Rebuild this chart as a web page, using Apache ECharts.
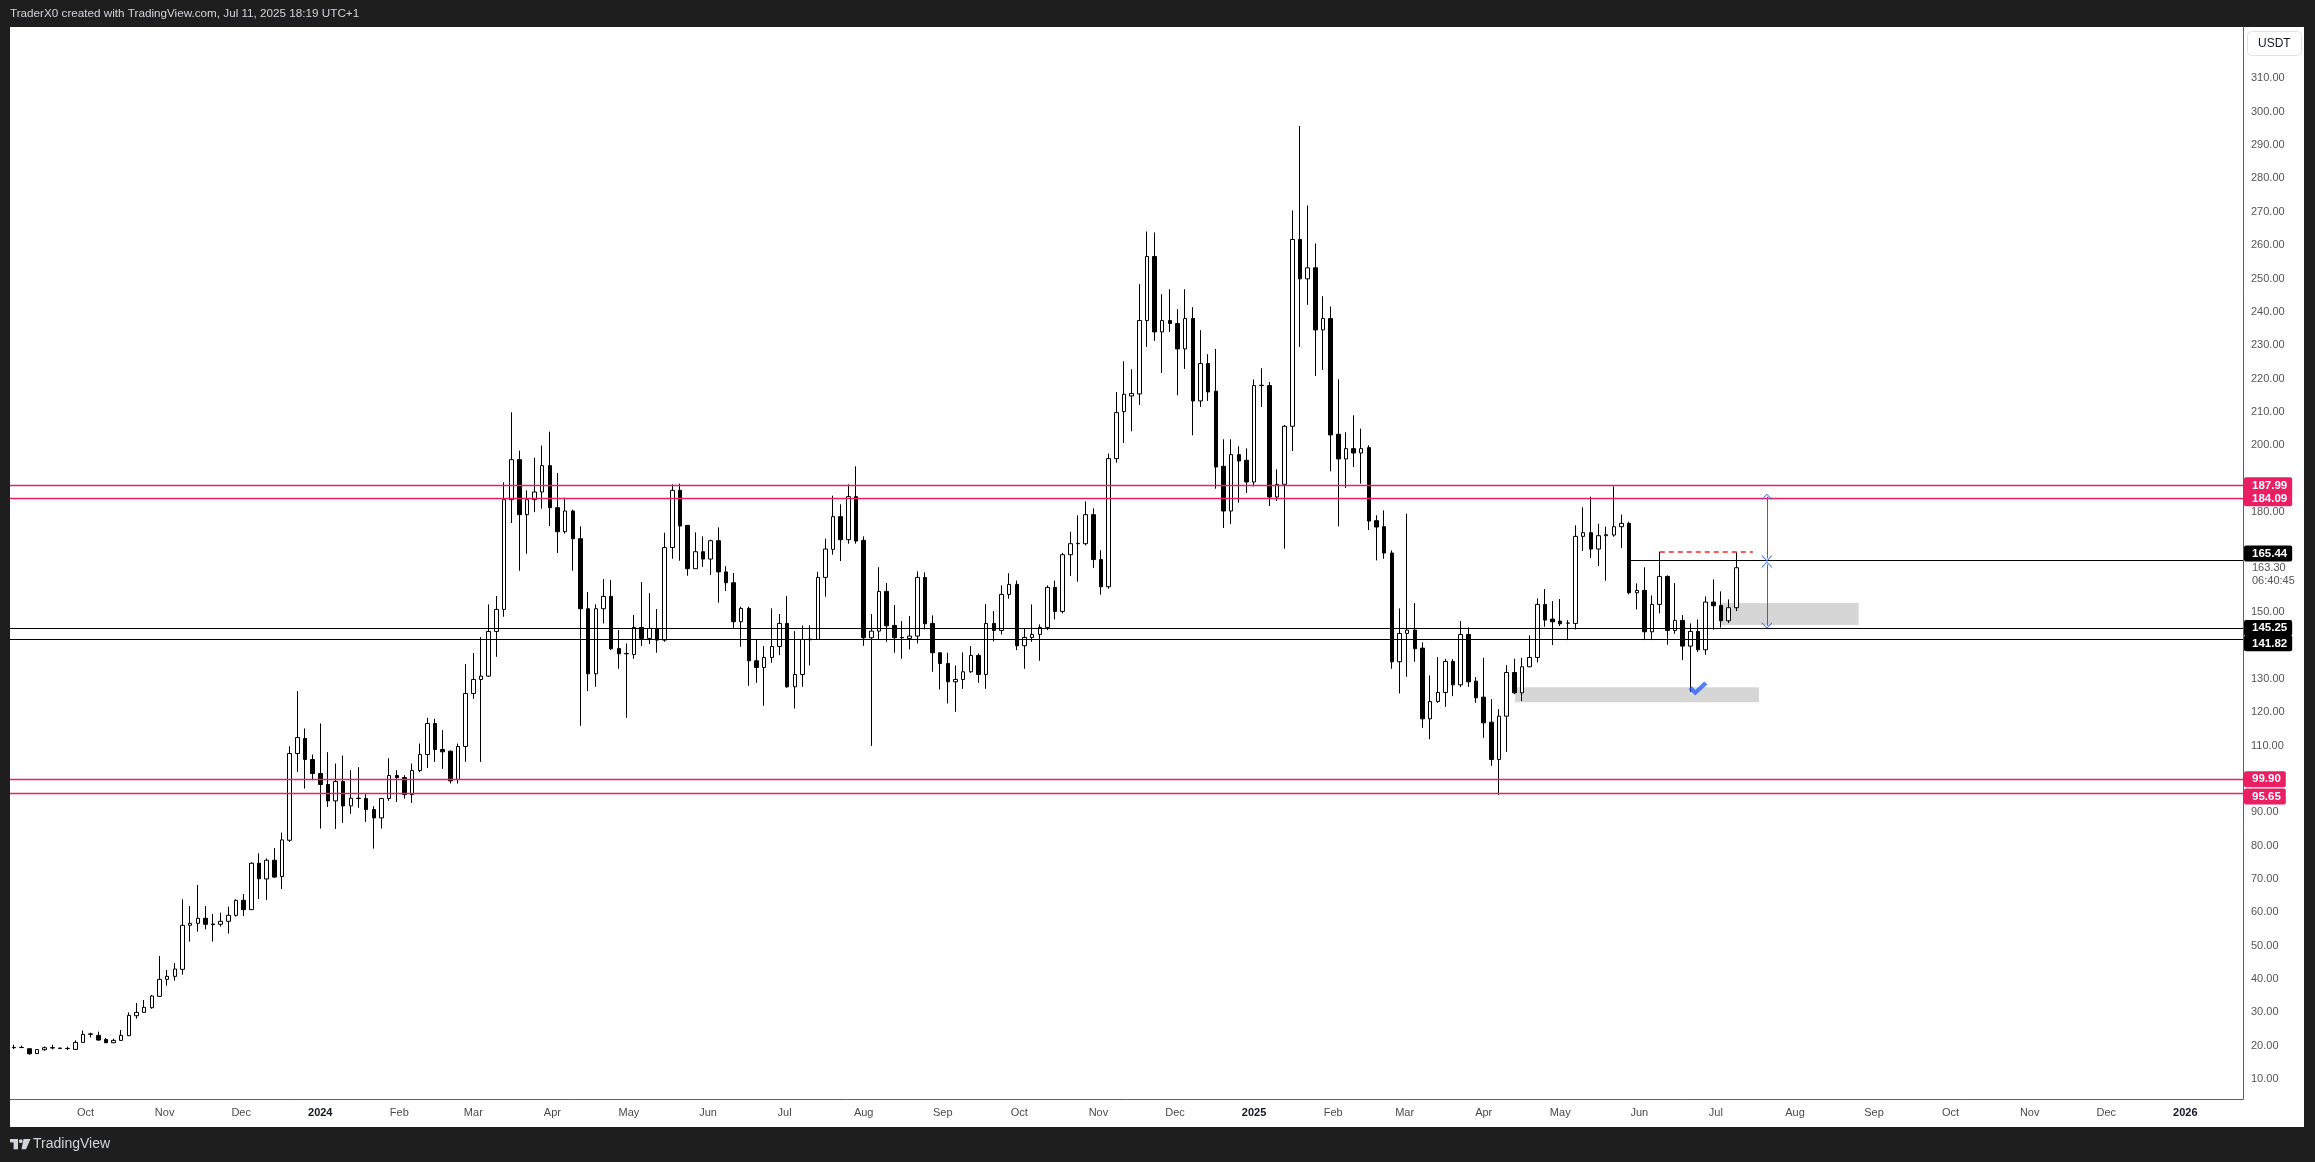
<!DOCTYPE html>
<html><head><meta charset="utf-8">
<script src="https://cdn.jsdelivr.net/npm/echarts@6/dist/echarts.min.js"></script>
<style>
html,body{margin:0;padding:0;background:#1e1e1e;overflow:hidden;}
#panel{position:absolute;left:10px;top:27px;width:2294px;height:1100px;background:#ffffff;}
#chart{position:absolute;left:0;top:0;width:2315px;height:1162px;}
</style></head><body>
<div id="panel"></div>
<div id="chart"></div>
<script>
// ---- data: SOL/USDT 3-day candles, first candle 2023-09-03, one every 3 days ----
const firstCandleDate = '2023-09-03';
const candleStepDays = 3;

const opens = [
19.5,19.45,19.1,17.65,18.8,19.4,19.3,19.2,18.9,21.0,
23.4,23.1,21.85,20.9,21.6,23.0,29.0,30.0,31.4,34.8,
39.9,40.8,42.9,56.1,56.7,58.2,56.5,56.4,57.3,59.1,
63.6,60.8,74.7,70.0,75.6,70.75,81.6,107.6,112.1,105.8,
101.6,98.3,93.4,99.2,91.9,94.2,94.1,90.8,88.3,94.1,
101.0,100.4,95.3,102.5,107.3,116.6,108.8,108.3,99.8,109.7,
125.6,129.8,130.8,144.2,150.8,183.7,195.7,179.2,183.7,186.0,
193.9,181.3,174.1,180.3,172.0,151.0,131.5,151.0,154.7,139.1,
137.6,137.3,145.4,142.1,145.1,141.6,169.35,186.5,176.0,163.0,
168.1,165.9,171.4,162.05,158.8,147.1,151.1,135.4,133.4,136.4,
139.7,146.6,127.6,131.3,141.7,141.8,160.4,168.8,178.6,171.7,
184.6,171.5,142.3,144.3,156.2,146.0,142.4,142.1,142.8,160.4,
146.6,137.8,134.6,129.1,129.8,132.1,137.0,131.3,146.6,144.5,
155.3,158.3,139.9,142.4,143.3,145.4,157.4,150.2,167.2,170.5,
170.5,179.2,165.75,157.6,196.0,210.1,214.8,215.4,237.4,256.6,
234.0,237.4,236.5,228.9,238.0,213.3,224.5,216.2,193.7,180.3,
197.2,195.5,189.0,217.9,217.9,184.5,188.3,205.7,261.7,249.9,
253.2,234.6,238.0,203.3,195.9,199.0,197.7,199.3,177.4,175.6,
167.7,135.1,143.6,144.6,139.2,118.0,123.2,125.9,135.2,128.2,
143.3,129.3,124.5,117.0,105.8,118.8,131.9,125.8,133.6,136.4,
152.3,147.9,147.3,146.7,146.6,172.7,173.8,168.9,172.9,173.1,
175.6,176.6,155.8,156.5,144.1,152.3,160.7,144.5,147.5,139.8,
144.2,138.7,153.0,152.0,147.4,151.3
];
const highs = [
20.3,20.0,19.2,18.9,19.8,20.3,19.4,19.7,21.6,24.6,
23.9,24.2,22.3,22.1,24.7,30.0,32.8,33.7,35.2,46.9,
42.7,44.8,63.9,61.9,68.2,61.9,59.5,59.9,61.7,63.9,
65.5,75.0,77.7,76.15,79.25,83.9,109.8,126.3,115.1,107.3,
116.6,108.0,104.6,107.0,102.6,103.5,95.4,91.8,94.3,106.2,
102.6,101.1,104.6,110.6,118.3,118.0,114.6,108.5,110.6,134.4,
137.7,142.5,152.3,154.8,188.9,209.9,198.4,186.5,196.3,199.9,
204.1,191.7,184.3,180.7,175.7,156.0,152.3,159.9,159.6,144.6,
140.6,149.1,159.0,155.7,150.9,173.8,188.3,188.5,176.0,173.9,
172.7,171.7,175.4,163.75,161.7,151.6,151.6,141.6,139.8,151.1,
149.4,154.8,144.3,146.0,146.0,162.1,172.0,184.9,182.3,188.3,
193.7,172.7,149.4,163.45,158.7,152.1,147.3,148.8,162.2,161.9,
149.0,137.8,137.8,134.0,137.9,139.8,137.6,152.4,150.3,158.0,
161.65,159.45,145.0,152.3,146.3,158.0,159.45,167.75,174.1,179.0,
183.2,181.1,168.55,197.5,216.0,225.2,222.8,248.3,264.1,263.8,
245.3,246.8,240.8,246.8,241.4,234.5,227.3,228.9,201.8,201.8,
199.7,199.1,219.7,223.1,219.0,192.8,206.1,270.4,295.7,271.9,
260.5,244.7,241.6,219.8,203.9,209.0,205.0,200.0,179.0,180.5,
168.5,151.1,179.5,152.7,140.9,131.0,136.5,136.0,135.9,147.3,
145.4,130.5,136.3,123.9,120.9,134.1,136.0,136.3,143.0,154.1,
156.9,153.3,153.9,147.6,176.0,181.4,184.6,176.5,175.6,187.7,
179.2,177.1,158.6,163.4,155.0,168.1,161.0,158.7,149.1,146.6,
147.8,154.7,159.8,156.2,153.8,167.9
];
const lows = [
19.0,19.3,17.3,17.6,18.5,18.9,19.0,18.7,18.8,20.9,
22.5,21.5,20.8,20.8,21.6,22.9,28.1,30.0,31.1,34.8,
38.0,39.5,41.3,51.2,54.2,54.9,51.2,55.7,53.6,58.7,
58.9,60.8,64.0,63.7,70.35,67.0,81.1,102.1,97.1,99.6,
85.1,91.6,85.0,86.8,89.5,91.3,87.1,79.1,85.1,93.4,
93.1,94.1,92.8,102.0,103.3,105.1,103.0,98.6,98.6,105.1,
124.0,105.1,130.6,136.6,148.6,176.7,162.4,167.5,180.0,181.0,
175.8,167.7,173.5,162.4,115.9,126.3,127.6,146.6,138.6,133.0,
118.3,136.0,139.8,140.4,137.8,141.1,166.0,165.4,160.9,163.0,
163.55,161.1,152.8,156.3,145.1,139.6,127.9,128.8,121.9,134.8,
137.1,127.3,121.1,127.6,134.0,141.8,154.6,167.2,165.3,170.5,
170.5,139.9,109.9,141.6,141.1,137.8,136.0,138.8,140.6,144.8,
132.1,126.8,122.6,120.1,127.0,131.8,128.8,127.0,141.2,143.3,
154.0,138.6,133.0,141.1,135.4,144.6,147.8,149.6,160.85,159.1,
170.0,163.25,155.2,157.0,194.8,200.7,204.2,212.1,229.5,231.3,
221.7,234.0,215.0,222.9,203.0,211.5,213.3,187.0,175.2,176.4,
182.8,185.7,187.7,211.5,181.8,183.3,169.0,198.3,229.5,242.1,
220.8,222.6,192.2,175.7,187.2,193.5,188.5,174.6,165.5,166.0,
133.0,125.6,130.6,135.1,115.3,111.9,122.8,121.6,124.8,127.5,
127.6,122.8,112.3,103.9,95.2,108.1,125.4,123.3,133.5,134.9,
145.6,140.1,145.8,141.6,144.8,168.3,166.2,163.8,159.4,172.6,
169.2,155.3,150.8,141.6,141.6,149.6,140.2,143.5,135.6,126.1,
138.0,137.2,144.7,145.35,146.7,150.3
];
const closes = [
19.4,19.5,17.6,18.85,19.4,19.35,19.2,19.15,21.0,23.4,
23.55,21.7,20.9,21.6,23.1,29.1,30.0,31.5,34.9,39.9,
40.8,43.0,56.1,56.7,58.2,56.4,56.3,57.3,59.1,63.6,
60.8,74.7,70.05,75.6,70.55,81.7,107.6,112.4,105.8,101.6,
98.3,93.4,99.2,91.9,94.2,94.1,90.8,88.3,94.1,101.0,
100.4,95.3,102.5,107.3,116.6,108.8,108.1,99.4,109.7,125.6,
129.8,130.8,144.2,150.8,183.7,195.7,179.2,183.7,186.0,193.9,
181.3,174.1,180.3,172.0,151.0,131.5,151.0,154.7,139.0,137.5,
137.5,145.4,142.1,145.1,141.6,169.35,186.5,175.8,163.0,168.1,
165.9,171.4,162.05,158.8,147.1,151.1,135.4,133.4,136.4,139.7,
146.6,127.6,131.3,141.8,141.9,160.4,168.9,178.6,171.7,184.6,
171.3,142.3,144.3,156.2,145.9,142.3,142.3,142.8,160.4,146.5,
137.8,134.6,129.1,129.8,132.1,137.0,131.3,146.6,144.5,155.3,
158.3,139.9,142.4,143.3,145.4,157.4,150.2,167.2,170.5,170.6,
179.2,165.75,157.6,196.0,209.8,215.3,215.5,237.4,256.6,234.0,
237.4,236.5,228.9,238.0,213.3,224.5,216.0,193.5,180.3,197.2,
195.3,189.0,217.9,218.0,184.5,188.3,205.7,261.7,249.9,253.2,
234.6,238.0,203.1,195.9,199.0,197.7,199.0,177.3,175.5,167.7,
135.1,143.6,144.6,139.0,118.0,123.2,125.9,135.2,128.2,143.3,
129.1,124.3,116.8,105.8,118.8,131.9,125.8,133.6,136.4,152.3,
147.6,147.1,146.5,146.7,172.7,173.8,168.9,172.9,173.2,175.6,
176.6,155.8,156.5,144.1,152.3,160.7,144.5,147.5,139.8,144.2,
138.7,153.0,151.9,147.4,151.3,163.3
];

// price-axis tick labels (those hidden behind tags in the original are left out)
const priceTicks = [10,20,30,40,50,60,70,80,90,110,120,130,150,180,200,210,220,230,240,250,260,270,280,290,300,310];
const pinkLevels = [187.99, 184.09, 99.90, 95.65];
const blackLevels = [145.25, 141.82];
const resistanceLevel = 165.44;
const lastPrice = 163.30;
const countdown = '06:40:45';
const sweptHigh = 168.0;
const upperBox = [152.7, 146.1];
const lowerBox = [127.5, 123.0];
const arrowUpper = [184.6, 166.1];
const arrowLower = [164.3, 145.9];
const checkPrice = 127.1;
const monthNames = ['Jan','Feb','Mar','Apr','May','Jun','Jul','Aug','Sep','Oct','Nov','Dec'];

// ---- build ----
const DAY = 86400000;
const t0 = Date.parse(firstCandleDate + 'T00:00:00Z');
const dates = opens.map((_, i) => t0 + i * candleStepDays * DAY);
const candles = dates.map((t, i) => [t, opens[i], closes[i], lows[i], highs[i]]);
const jan2024 = Date.UTC(2024, 0, 1);
const xMin = jan2024 - 121.6 * DAY;
const xMax = jan2024 + 753.6 * DAY;
const yMin = 4.03, yMax = 325.4;
const T = s => Date.parse(s);

const PINK = '#e91e63';
const FONT = 'Liberation Sans, Arial, sans-serif';
const chev = 'path://M0,10 L10,0 L20,10 L18,10 L10,2 L2,10 Z';
const checkPath = 'path://M0,7 L3,4.5 L6,8 L14,0 L17,2.5 L6,13 Z';

// tag labels on the price scale; two blank end slots keep ECharts from dropping the outer tags
const tagVals = [yMin + 1, 95.65, 99.90, 141.82, 145.25, lastPrice, resistanceLevel, 184.09, 187.99, yMax - 1];
function tagFmt(v) {
  const s = Number(v).toFixed(2);
  if (s === (yMin + 1).toFixed(2) || s === (yMax - 1).toFixed(2)) return '';
  if (s === lastPrice.toFixed(2)) return '{e| }\n{g|' + s + '}\n{g|' + countdown + '}';
  if (s === resistanceLevel.toFixed(2)) return '{k|' + s + '}\n{e| }';
  if (s === '141.82') return '{e8| }\n{k|' + s + '}';
  if (s === '145.25') return '{k|' + s + '}';
  if (s === '95.65') return '{e6| }\n{p|' + s + '}';
  return '{p|' + s + '}';
}

const levelLines = [];
pinkLevels.forEach(v => levelLines.push({yAxis: v, lineStyle: {color: PINK, width: 1.3, type: 'solid'}}));
blackLevels.forEach(v => levelLines.push({yAxis: v, lineStyle: {color: '#000', width: 1.2, type: 'solid'}}));
levelLines.push([{coord: [dates[211], resistanceLevel], lineStyle: {color: '#000', width: 1.2, type: 'solid'}}, {coord: [xMax, resistanceLevel]}]);
levelLines.push([{coord: [dates[215], sweptHigh], lineStyle: {color: '#ff1f1f', width: 1.5, type: [5, 4]}}, {coord: [T('2025-07-15T12:00:00Z'), sweptHigh]}]);

const chart = echarts.init(document.getElementById('chart'), null, {renderer: 'canvas'});
chart.setOption({
  animation: false,
  useUTC: true,
  backgroundColor: 'transparent',
  textStyle: {fontFamily: FONT},
  title: [
    {text: 'TraderX0 created with TradingView.com, Jul 11, 2025 18:19 UTC+1', left: 10, top: 8, padding: 0,
     textStyle: {color: '#d1d4dc', fontSize: 11.7, fontWeight: 'normal', fontFamily: FONT}},
    {text: 'TradingView', left: 33, top: 1137, padding: 0,
     textStyle: {color: '#d1d4dc', fontSize: 14, fontWeight: 'normal', fontFamily: FONT}},
    {text: 'USDT', left: 2247, top: 31, padding: [7, 11, 6, 11], borderColor: '#e0e3eb', borderWidth: 1, borderRadius: 4,
     textStyle: {color: '#131722', fontSize: 12, fontWeight: 'normal', fontFamily: FONT}}
  ],
  graphic: [
    {type: 'rect', shape: {x: 10, y: 1139, width: 8, height: 3.4}, style: {fill: '#d1d4dc'}},
    {type: 'rect', shape: {x: 13.6, y: 1139, width: 4.4, height: 10.3}, style: {fill: '#d1d4dc'}},
    {type: 'circle', shape: {cx: 20.8, cy: 1141.2, r: 1.9}, style: {fill: '#d1d4dc'}},
    {type: 'polygon', shape: {points: [[23.5, 1139], [30.5, 1139], [26, 1149.3], [21.5, 1149.3]]}, style: {fill: '#d1d4dc'}}
  ],
  grid: {left: 10, right: 72, top: 27, bottom: 63, containLabel: false},
  xAxis: {
    type: 'time', min: xMin, max: xMax, splitNumber: 30,
    minInterval: 28 * DAY, maxInterval: 31 * DAY,
    axisLine: {show: true, lineStyle: {color: '#5d606b', width: 1}},
    axisTick: {show: false}, splitLine: {show: false},
    axisLabel: {
      margin: 8, color: '#4a4a4a', fontSize: 11, fontFamily: FONT, showMinLabel: false, showMaxLabel: false, hideOverlap: false,
      formatter: function (val) {
        const d = new Date(val);
        if (d.getUTCMonth() === 0) return '{y|' + d.getUTCFullYear() + '}';
        return '{m|' + monthNames[d.getUTCMonth()] + '}';
      },
      rich: {y: {color: '#131722', fontWeight: 'bold', fontSize: 11, fontFamily: FONT}, m: {color: '#4a4a4a', fontSize: 11, fontFamily: FONT}}
    }
  },
  yAxis: [
    {type: 'value', position: 'right', min: yMin, max: yMax, scale: true,
     axisLine: {show: true, lineStyle: {color: '#5d606b', width: 1}},
     axisTick: {show: false}, splitLine: {show: false},
     axisLabel: {customValues: priceTicks, margin: 8, color: '#555', fontSize: 11, fontFamily: FONT,
       showMinLabel: true, showMaxLabel: true, hideOverlap: false,
       formatter: v => Number(v).toFixed(2)}},
    {type: 'value', position: 'right', min: yMin, max: yMax, scale: true, offset: 0,
     axisLine: {show: false}, axisTick: {show: false}, splitLine: {show: false},
     axisLabel: {customValues: tagVals, margin: 1, formatter: tagFmt, fontFamily: FONT,
       showMinLabel: true, showMaxLabel: true, hideOverlap: false,
       rich: {
         p: {backgroundColor: PINK, color: '#fff', fontWeight: 'bold', fontSize: 11.5, lineHeight: 12, padding: [2, 5, 2, 8], borderRadius: 2, fontFamily: FONT},
         k: {backgroundColor: '#000', color: '#fff', fontWeight: 'bold', fontSize: 11.5, lineHeight: 12, padding: [2, 5, 2, 8], borderRadius: 2, fontFamily: FONT},
         g: {color: '#555', fontSize: 11, lineHeight: 13, padding: [0, 0, 0, 8], fontFamily: FONT},
         e: {fontSize: 1, lineHeight: 14},
         e8: {fontSize: 1, lineHeight: 8},
         e6: {fontSize: 1, lineHeight: 6}
       }}}
  ],
  series: [
    {
      type: 'line', data: [], z: 1, silent: true,
      markArea: {silent: true, itemStyle: {color: 'rgba(0,0,0,0.16)'},
        data: [
          [{coord: [T('2025-07-02T14:00:00Z'), upperBox[0]]}, {coord: [T('2025-08-26T00:00:00Z'), upperBox[1]]}],
          [{coord: [T('2025-04-13T07:00:00Z'), lowerBox[0]]}, {coord: [T('2025-07-17T22:00:00Z'), lowerBox[1]]}]
        ]}
    },
    {
      type: 'candlestick', name: 'SOLUSDT', data: candles, barWidth: 4,
      encode: {x: 0, y: [1, 2, 3, 4]},
      itemStyle: {color: '#ffffff', color0: '#000000', borderColor: '#000000', borderColor0: '#000000', borderWidth: 1},
      emphasis: {disabled: true},
      markLine: {silent: true, symbol: ['none', 'none'], label: {show: false}, animation: false, data: levelLines}
    },
    {
      type: 'line', data: [], silent: true,
      markLine: {silent: true, symbol: [chev, chev], symbolSize: [11, 6], label: {show: false},
        lineStyle: {color: '#2962ff', width: 1, type: 'solid'},
        data: [
          [{coord: [T('2025-07-21T00:00:00Z'), arrowUpper[0]]}, {coord: [T('2025-07-21T00:00:00Z'), arrowUpper[1]]}],
          [{coord: [T('2025-07-21T00:00:00Z'), arrowLower[0]]}, {coord: [T('2025-07-21T00:00:00Z'), arrowLower[1]]}]
        ]}
    },
    {
      type: 'scatter', silent: true, z: 6, symbol: checkPath, symbolSize: [19, 14],
      itemStyle: {color: '#2962ff'},
      data: [[T('2025-06-24T00:00:00Z'), checkPrice]]
    }
  ]
});
</script>
</body></html>
